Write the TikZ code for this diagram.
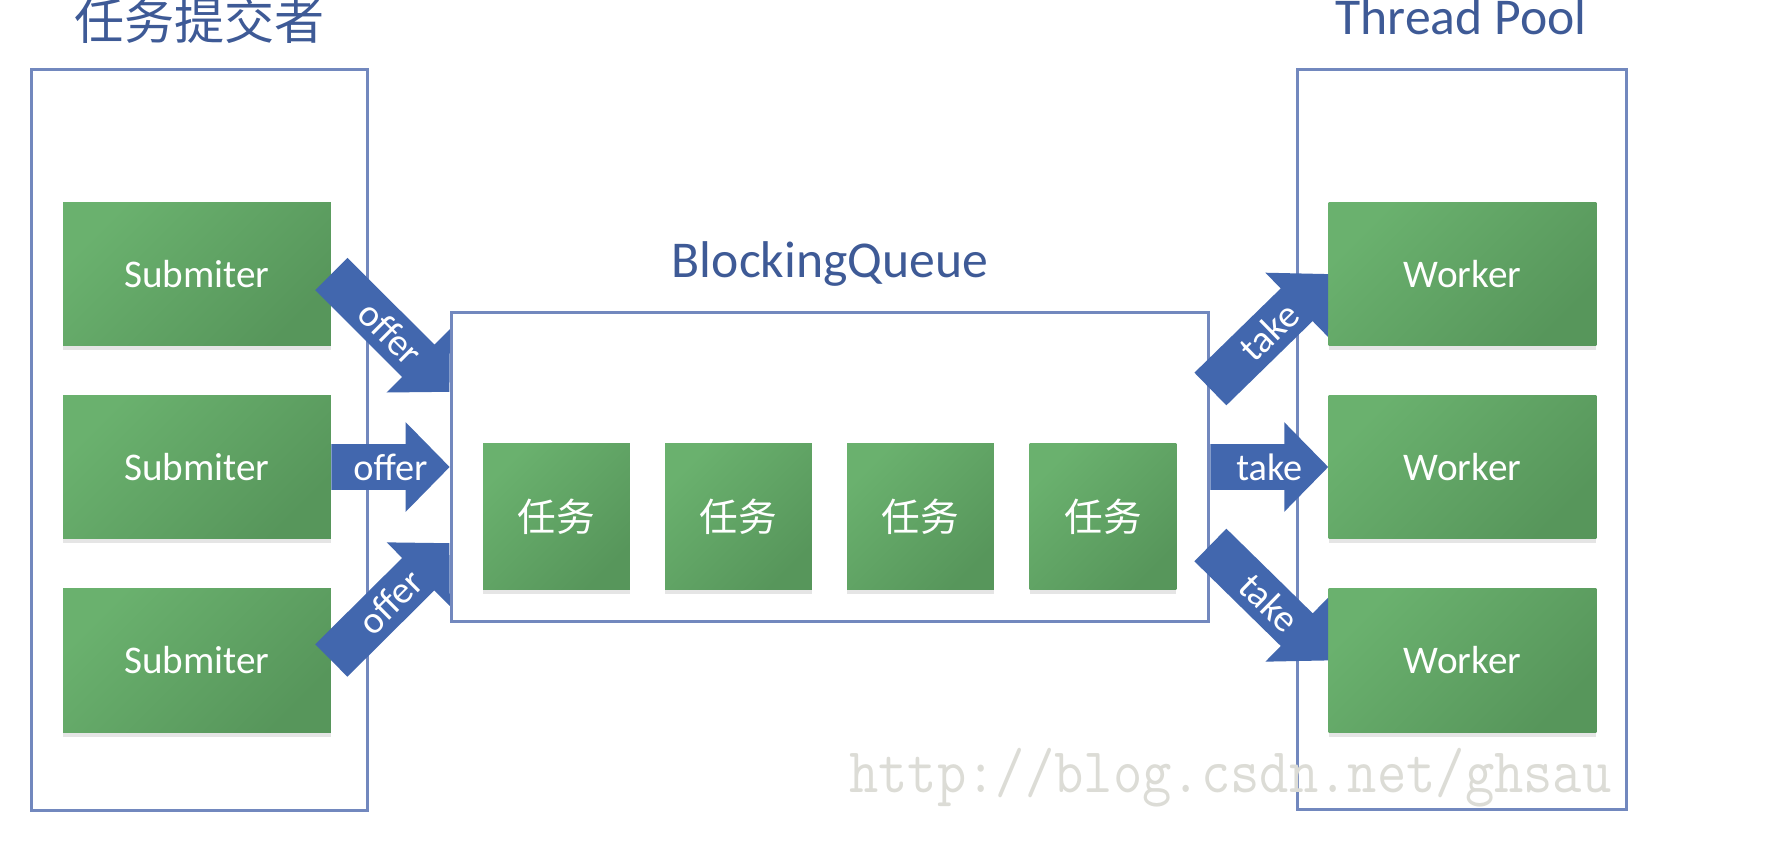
\documentclass[tikz,border=0pt]{standalone}
\usepackage{fontspec}
\setmainfont{Carlito}
\newfontfamily\cjk{Noto Sans CJK SC}
\usetikzlibrary{calc,shadows}
\definecolor{gLight}{RGB}{106,177,110}
\definecolor{gDark}{RGB}{87,150,91}
\definecolor{arrowblue}{RGB}{66,103,174}
\definecolor{framecol}{RGB}{114,136,190}
\definecolor{titleblue}{RGB}{62,90,150}
\definecolor{wmark}{RGB}{220,220,214}
\def\px{0.569pt}
\tikzset{
 frame/.style={draw=framecol, line width=1.7pt, fill=white, inner sep=0},
 greenbox/.style={draw=none, top color=gLight, bottom color=gDark, shading angle=45, text=white, inner sep=0,
   drop shadow={shadow xshift=0pt, shadow yshift=-2.5pt, opacity=0.2}},
 wide/.style={greenbox, minimum width=268*\px, minimum height=144*\px, font=\fontsize{22.3}{24}\selectfont},
 taskbox/.style={greenbox, minimum width=147*\px, minimum height=147*\px, font=\cjk\fontsize{22}{24}\selectfont},
 title/.style={text=titleblue, font=\fontsize{29.4}{32}\selectfont, inner sep=0},
 arrowfill/.style={fill=arrowblue},
 arrowtext/.style={text=white, font=\fontsize{21.8}{24}\selectfont, inner sep=0},
}
\newcommand\blockarrow[4]{%
 \fill[arrowfill] let \p1=(#2), \p2=(#3), \n1={atan2(\y2-\y1,\x2-\x1)}, \n2={veclen(\x2-\x1,\y2-\y1)} in
  ($(\p1)+({\n1+90}:13pt)$)
  -- ($(\p1)+({\n1}:{\n2-25pt})+({\n1+90}:13pt)$)
  -- ($(\p1)+({\n1}:{\n2-25pt})+({\n1+90}:25.5pt)$)
  -- ($(\p1)+({\n1}:{\n2+0pt})$)
  -- ($(\p1)+({\n1}:{\n2-25pt})+({\n1-90}:25.5pt)$)
  -- ($(\p1)+({\n1}:{\n2-25pt})+({\n1-90}:13pt)$)
  -- ($(\p1)+({\n1-90}:13pt)$) -- cycle
  ($(\p1)!0.5!(\p2)$) node[arrowtext, rotate=\n1] (#1) {#4};
}
\begin{document}
\begin{tikzpicture}[x=0.02cm, y=-0.02cm]
\useasboundingbox (0,0) rectangle (1778,852);
% containers
\node[frame, minimum width=337*\px, minimum height=742*\px] (subs) at (199.5,440) {};
\node[frame, minimum width=330*\px, minimum height=741*\px] (pool) at (1462,439.5) {};
\node[frame, minimum width=758*\px, minimum height=310*\px] (queue) at (830,467) {};
% titles
\node[title, font=\cjk\fontsize{28.5}{32}\selectfont] (t1) at (199.5,20) {任务提交者};
\node[title, anchor=base] (t2) at (1461,34) {Thread Pool};
\node[title, anchor=base] (t3) at (830,277) {BlockingQueue};
% submitters
\node[wide] (s1) at (197,274) {Submiter};
\node[wide] (s2) at (197,467) {Submiter};
\node[wide] (s3) at (197,660.5) {Submiter};
% workers
\node[wide] (w1) at (1462.5,274) {Worker};
\node[wide] (w2) at (1462.5,467) {Worker};
\node[wide] (w3) at (1462.5,660.5) {Worker};
% tasks
\node[taskbox] (k1) at (556.5,516.5) {任务};
\node[taskbox] (k2) at (738.5,516.5) {任务};
\node[taskbox] (k3) at (920.5,516.5) {任务};
\node[taskbox] (k4) at (1103,516.5) {任务};
% arrow end points
\coordinate (qa) at ($(queue.west)+(0,-75)$);
\coordinate (qb) at (queue.west);
\coordinate (qc) at ($(queue.west)+(0,76)$);
\coordinate (qd) at ($(queue.east)+(0,-78)$);
\coordinate (qe) at (queue.east);
\coordinate (qf) at ($(queue.east)+(0,78)$);
\blockarrow{o1}{s1.east}{qa}{offer}
\blockarrow{o2}{s2.east}{qb}{offer}
\blockarrow{o3}{s3.east}{qc}{offer}
\blockarrow{a1}{qd}{w1.west}{take}
\blockarrow{a2}{qe}{w2.west}{take}
\blockarrow{a3}{qf}{w3.west}{take}
% watermark
\node[anchor=base west, text=wmark, font=\ttfamily\fontsize{32.4}{34}\selectfont, inner sep=0, yscale=1.12] (wm) at (849,792) {http://blog.csdn.net/ghsau};
\end{tikzpicture}
\end{document}
